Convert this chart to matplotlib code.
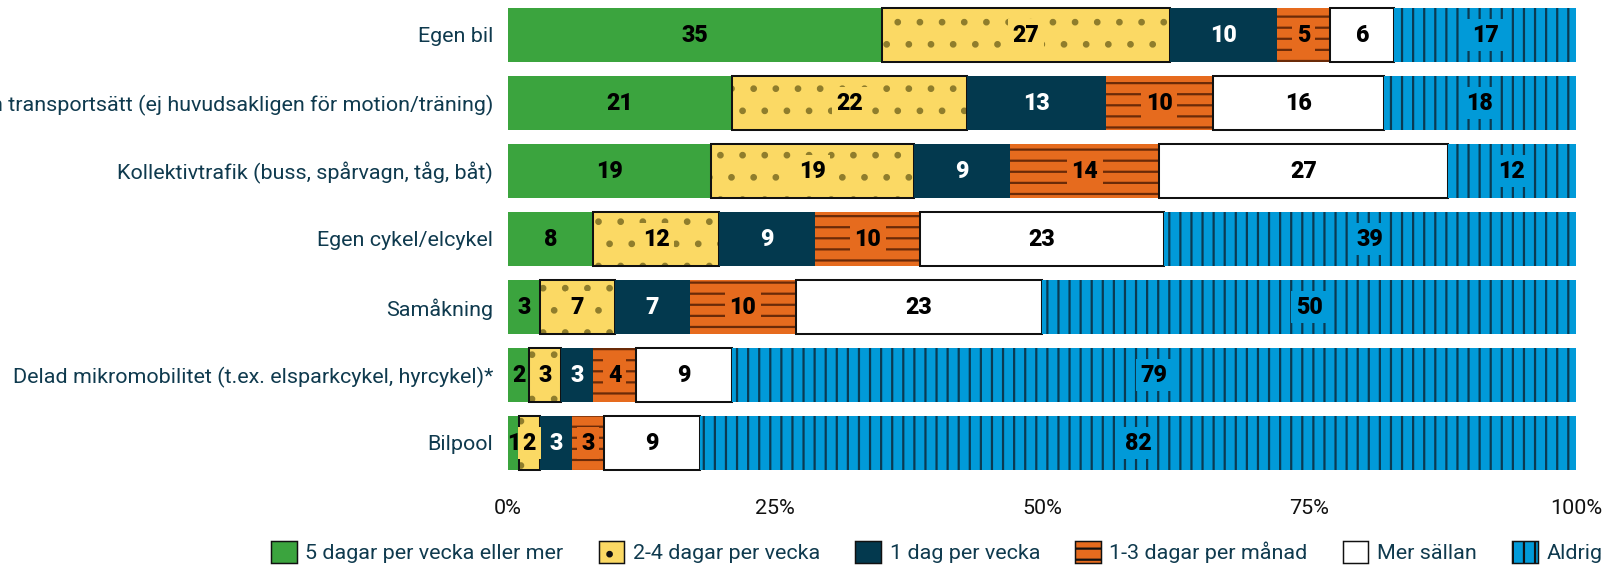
import matplotlib
matplotlib.use("Agg")
import matplotlib.pyplot as plt
from matplotlib.patches import Patch
import numpy as np

DPI = 133.33
plt.rcParams['font.family'] = ['Roboto', 'DejaVu Sans']

# data (percent)
categories = [
    "Egen bil",
    "Gå/springa som en transportsätt (ej huvudsakligen för motion/träning)",
    "Kollektivtrafik (buss, spårvagn, tåg, båt)",
    "Egen cykel/elcykel",
    "Samåkning",
    "Delad mikromobilitet (t.ex. elsparkcykel, hyrcykel)*",
    "Bilpool",
]
series = [
    "5 dagar per vecka eller mer",
    "2-4 dagar per vecka",
    "1 dag per vecka",
    "1-3 dagar per månad",
    "Mer sällan",
    "Aldrig",
]
five_plus = [35, 21, 19, 8, 3, 2, 1]
two_four = [27, 22, 19, 12, 7, 3, 2]
one_day = [10, 13, 9, 9, 7, 3, 3]
month = [5, 10, 14, 10, 10, 4, 3]
rarely = [6, 16, 27, 23, 23, 9, 9]
never = [17, 18, 12, 39, 50, 79, 82]
xticks = [0, 25, 50, 75, 100]

values = np.array([five_plus, two_four, one_day, month, rarely, never], dtype=float)
shares = values / values.sum(axis=0) * 100

colors = ['#3ba43e', '#fbd964', '#03394e', '#e66b1e', '#ffffff', '#019ad8']
hatches = [None, '.', None, '--', None, '||']
hatch_cols = [None, '#8f7d2c', None, '#6a2a08', None, '#0b3a52']
borders = [None, '#111111', None, None, '#111111', None]
txt_cols = ['black', 'black', 'white', 'black', 'black', 'black']
label_col = '#0f3a4e'
fs = 11.6

plt.rcParams['hatch.linewidth'] = 1.2

fig = plt.figure(figsize=(1604 / DPI, 566 / DPI), dpi=DPI)
ax = fig.add_axes([508 / 1604, 1 - 477 / 566, 1068 / 1604, 476 / 566])

y = np.arange(len(categories))
left = np.zeros(len(categories))
bh = 0.78
for i in range(len(series)):
    w = shares[i]
    ax.barh(y, w, left=left, height=bh, color=colors[i], linewidth=0)
    if hatches[i]:
        ax.barh(y, w, left=left, height=bh, facecolor='none',
                edgecolor=hatch_cols[i], hatch=hatches[i], linewidth=0)
    if borders[i]:
        ax.barh(y, w, left=left, height=bh, facecolor='none',
                edgecolor=borders[i], linewidth=1.1)
    for j in range(len(categories)):
        box = None
        if hatches[i]:
            box = dict(boxstyle='square,pad=0.2', facecolor=colors[i], edgecolor='none')
        ax.text(left[j] + w[j] / 2, y[j], f"{int(values[i][j])}",
                ha='center', va='center', color=txt_cols[i],
                fontsize=12.5, fontweight='heavy', bbox=box)
    left += w

ax.set_xlim(0, 100)
ax.set_ylim(len(categories) - 0.5, -0.5)
ax.set_yticks(y)
ax.set_yticklabels(categories, color=label_col, fontsize=fs)
ax.set_xticks(xticks)
ax.set_xticklabels([f"{t}%" for t in xticks], color='#111111', fontsize=fs)
ax.tick_params(length=0)
ax.tick_params(axis='y', pad=8)
ax.tick_params(axis='x', pad=12)
for s in ax.spines.values():
    s.set_visible(False)

handles = []
for i in range(len(series)):
    handles.append(Patch(facecolor=colors[i], edgecolor='#111111',
                         hatch=hatches[i], linewidth=0.8))
leg = fig.legend(handles, series, loc='center left', ncol=6,
                 bbox_to_anchor=(271 / 1604, 1 - 552 / 566),
                 bbox_transform=fig.transFigure, frameon=False,
                 fontsize=fs, handlelength=1.2, handleheight=1.2,
                 handletextpad=0.4, columnspacing=1.63,
                 borderpad=0, borderaxespad=0)
for t in leg.get_texts():
    t.set_color(label_col)

fig.savefig('out.png', dpi=DPI)
